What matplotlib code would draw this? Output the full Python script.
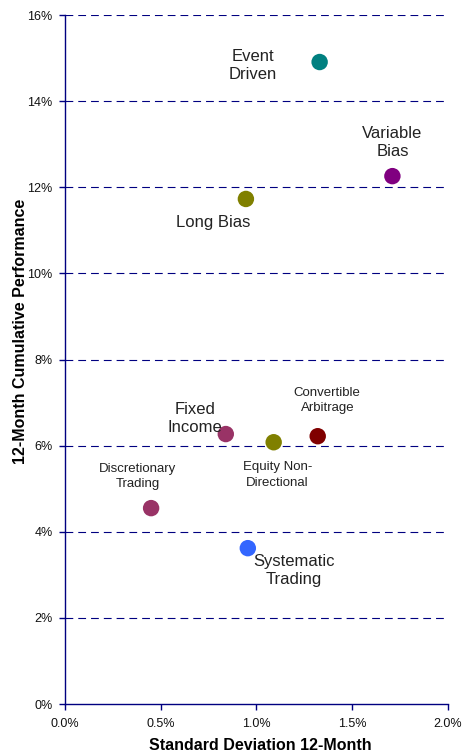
import matplotlib.pyplot as plt
from matplotlib.ticker import FuncFormatter

# data (percent)
names = ['Event\nDriven', 'Variable\nBias', 'Long Bias', 'Fixed\nIncome',
         'Equity Non-\nDirectional', 'Convertible\nArbitrage',
         'Discretionary\nTrading', 'Systematic\nTrading']
std_dev = [1.33, 1.71, 0.945, 0.84, 1.09, 1.32, 0.45, 0.955]
perf = [14.91, 12.26, 11.73, 6.27, 6.08, 6.22, 4.55, 3.62]
colors = ['#008080', '#800080', '#808000', '#993366',
          '#808000', '#800000', '#993366', '#3366FF']

# label placement (data offsets) and font size
label_pos = [(-0.35, -0.07), (0.0, 0.77), (-0.17, -0.54), (-0.16, 0.37),
             (0.02, -0.76), (0.05, 0.82), (-0.07, 0.74), (0.24, -0.51)]
label_size = [12, 12, 12, 12, 9.5, 9.5, 9.5, 12]

plt.rcParams['font.family'] = ['Liberation Sans', 'DejaVu Sans']

fig = plt.figure(figsize=(4.74, 7.55), dpi=100)
ax = fig.add_axes([0.137, 0.0675, 0.808, 0.9125])

navy = '#000080'
ax.set_xlim(0, 2.0)
ax.set_ylim(0, 16)
ax.set_xticks([0, 0.5, 1.0, 1.5, 2.0])
ax.set_yticks(range(0, 17, 2))
ax.xaxis.set_major_formatter(FuncFormatter(lambda v, p: '%.1f%%' % v))
ax.yaxis.set_major_formatter(FuncFormatter(lambda v, p: '%d%%' % v))
ax.tick_params(labelsize=9, color=navy, length=4, width=1, labelcolor='#111111')
ax.tick_params(axis='x', pad=6)
ax.tick_params(axis='y', pad=5)

for y in range(2, 17, 2):
    ax.axhline(y, color=navy, lw=0.8, ls=(0, (7, 4.5)), zorder=1)

for s in ['top', 'right']:
    ax.spines[s].set_visible(False)
for s in ['left', 'bottom']:
    ax.spines[s].set_color(navy)
    ax.spines[s].set_linewidth(1)

ax.scatter(std_dev, perf, s=140, c=colors, zorder=3, linewidths=0)

for i, n in enumerate(names):
    dx, dy = label_pos[i]
    ls = 1.25 if label_size[i] > 10 else 1.35
    ax.text(std_dev[i] + dx, perf[i] + dy, n, ha='center', va='center',
            fontsize=label_size[i], color='#222222', linespacing=ls)

ax.set_xlabel('Standard Deviation 12-Month', fontsize=11.5, fontweight='bold')
ax.set_ylabel('12-Month Cumulative Performance', fontsize=11.5, fontweight='bold')
ax.xaxis.label.set_va('center')
ax.yaxis.label.set_va('center')
ax.xaxis.set_label_coords(0.509, -0.06)
ax.yaxis.set_label_coords(-0.115, 0.541)

fig.savefig('out.png', dpi=100)
